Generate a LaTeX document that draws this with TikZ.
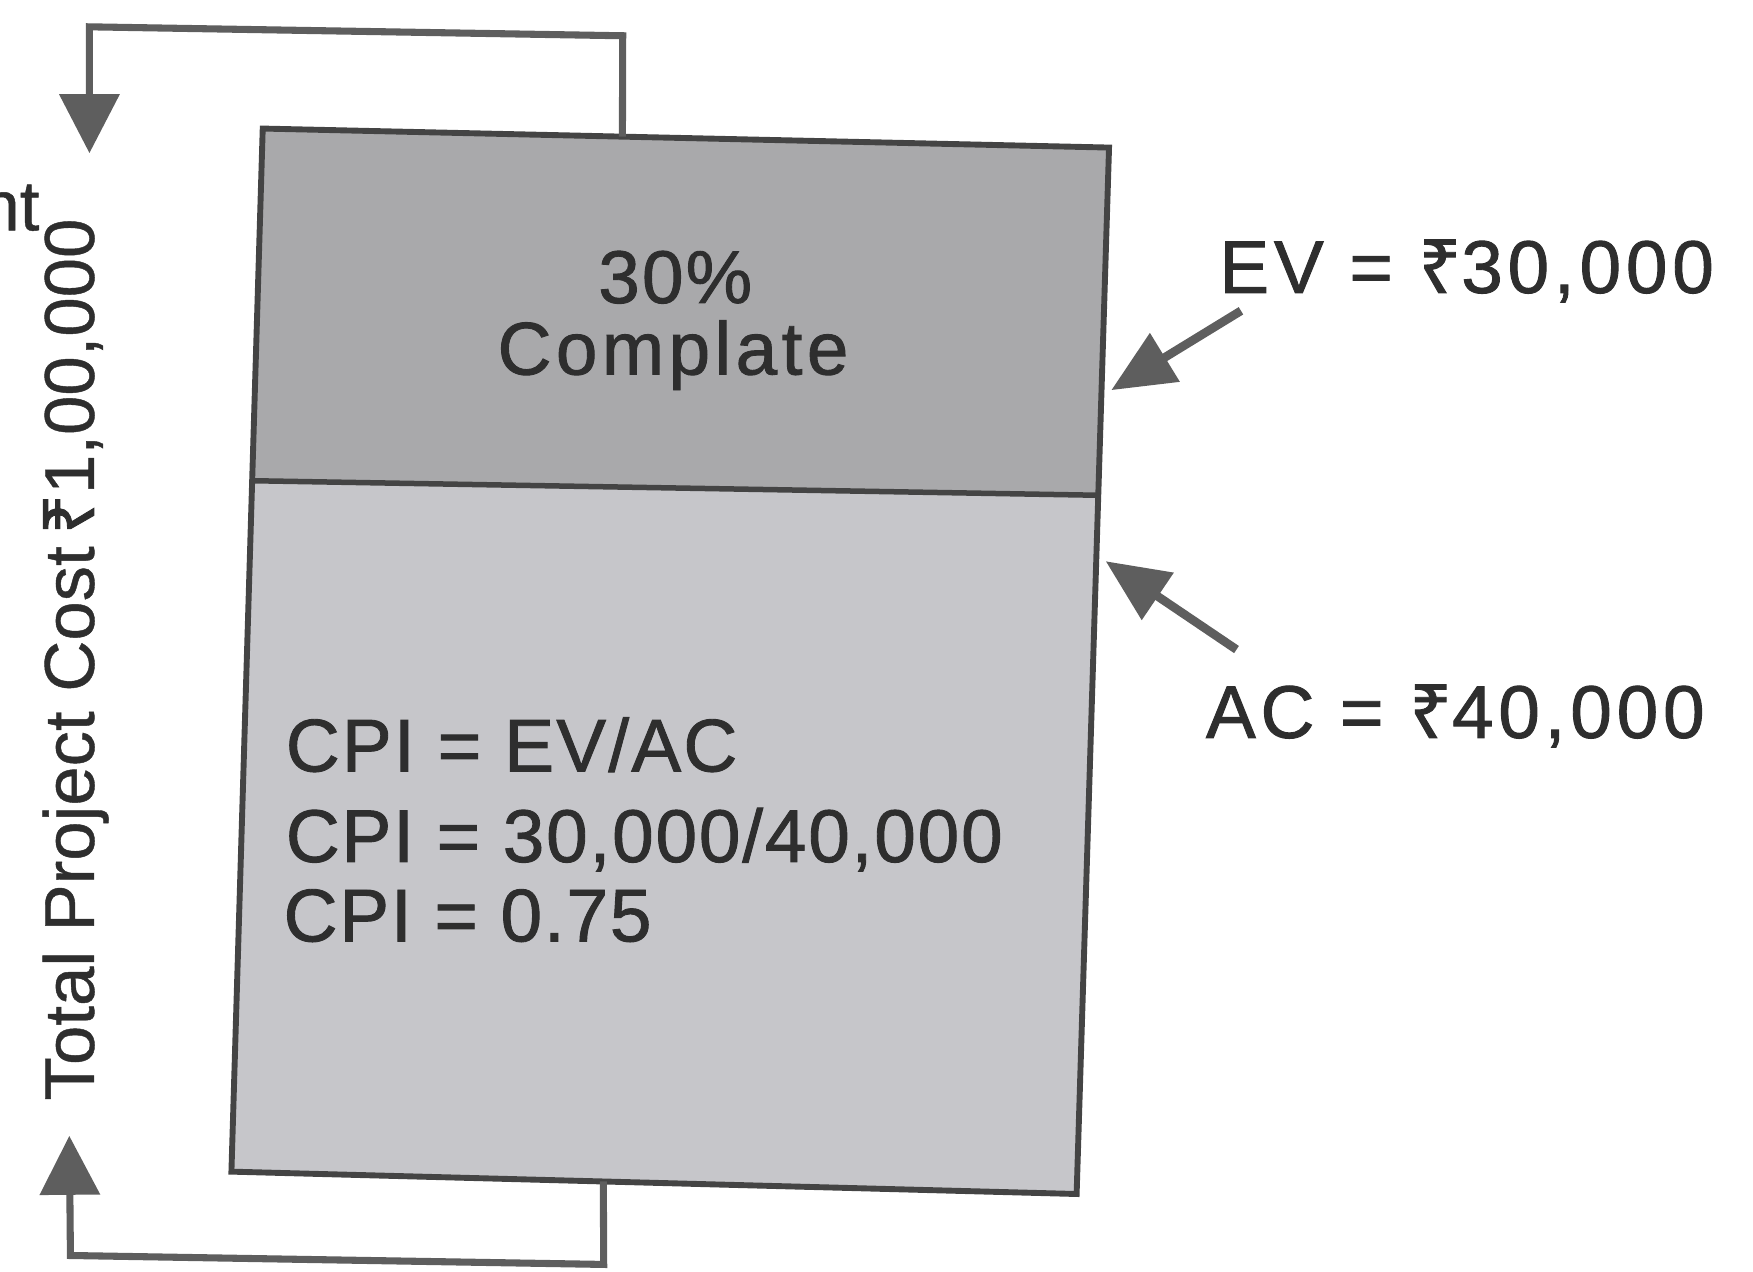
\documentclass[tikz,border=0pt]{standalone}
\usepackage{fontspec}
\setmainfont{Liberation Sans}
\newfontfamily\rupeefont{Noto Sans}
\newcommand\Rs{{\rupeefont\addfontfeature{FakeBold=1.2}₹}}
\usetikzlibrary{arrows.meta,calc}
\definecolor{topgray}{HTML}{A9A9AB}
\definecolor{botgray}{HTML}{C6C6CA}
\definecolor{edgegray}{HTML}{444444}
\definecolor{arrowgray}{HTML}{5E5E5E}
\definecolor{txtgray}{HTML}{2E2E2E}
\tikzset{
  conn/.style={draw=arrowgray, line width=1.8pt, line join=miter,
    -{Triangle[length=15pt,width=15pt]}},
  ptr/.style={draw=arrowgray, line width=2.2pt,
    -{Triangle[length=16pt,width=14pt]}},
  lbl/.style={inner sep=0pt, text=txtgray},
}
\newcommand\lblfont[1]{\fontsize{19}{23}\selectfont\addfontfeature{FakeBold=1.2,LetterSpace=#1}}
\begin{document}
\begin{tikzpicture}[x=0.1mm,y=-0.1mm]
\useasboundingbox (0,0) rectangle (1568,1137);
% box corners
\coordinate (tl) at (235,115);
\coordinate (tr) at (992,132);
\coordinate (br) at (963,1068);
\coordinate (bl) at (207,1048);
\coordinate (dl) at (226,430);
\coordinate (dr) at (982,443);
\fill[topgray] (tl) -- (tr) -- (dr) -- (dl) -- cycle;
\fill[botgray] (dl) -- (dr) -- (br) -- (bl) -- cycle;
\draw[edgegray, line width=1.4pt] (dl) -- (dr);
\draw[edgegray, line width=1.5pt, line join=miter] (tl) -- (tr) -- (br) -- (bl) -- cycle;
% connectors
\coordinate (topA) at ($(tl)!0.425!(tr)$);
\coordinate (topB) at (557,32);
\coordinate (topC) at (80,24);
\coordinate (topD) at (80,137);
\draw[conn] (topA) -- (topB) -- (topC) -- (topD);
\coordinate (botA) at ($(bl)!0.44!(br)$);
\coordinate (botB) at (540,1131);
\coordinate (botC) at (63,1123);
\coordinate (botD) at (62,1016);
\draw[conn] (botA) -- (botB) -- (botC) -- (botD);
% texts in box
\node[lbl, anchor=base, font=\lblfont{3}] (pct) at (604,271) {30\%};
\node[lbl, anchor=base, font=\lblfont{6}] (cmp) at (602,335) {Complate};
\node[lbl, anchor=base west, font=\lblfont{3}] (cpa) at (255,690) {CPI = EV/AC};
\node[lbl, anchor=base west, font=\lblfont{2.5}] (cpb) at (255,771) {CPI = 30,000/40,000};
\node[lbl, anchor=base west, font=\lblfont{2.5}] (cpc) at (253,842) {CPI = 0.75};
% EV / AC labels
\node[lbl, anchor=base west, font=\lblfont{6.5}] (ev) at (1090,262) {EV = \Rs30,000};
\node[lbl, anchor=base west, font=\lblfont{6.5}] (ac) at (1078,660) {AC = \Rs40,000};
\coordinate (evS) at (1110,278);
\coordinate (evT) at (994,349);
\draw[ptr] (evS) -- (evT);
\coordinate (acS) at (1106,581);
\coordinate (acT) at (989,502);
\draw[ptr] (acS) -- (acT);
% side labels
\node[lbl, rotate=90, anchor=base west, font=\fontsize{18}{22}\selectfont\addfontfeature{FakeBold=0.6}] (total) at (84,985) {Total Project Cost\,\Rs1,00,000};
\node[lbl, anchor=base east, font=\fontsize{18}{22}\selectfont\addfontfeature{FakeBold=0.6}] (frag) at (36,206) {nt};
\end{tikzpicture}
\end{document}
